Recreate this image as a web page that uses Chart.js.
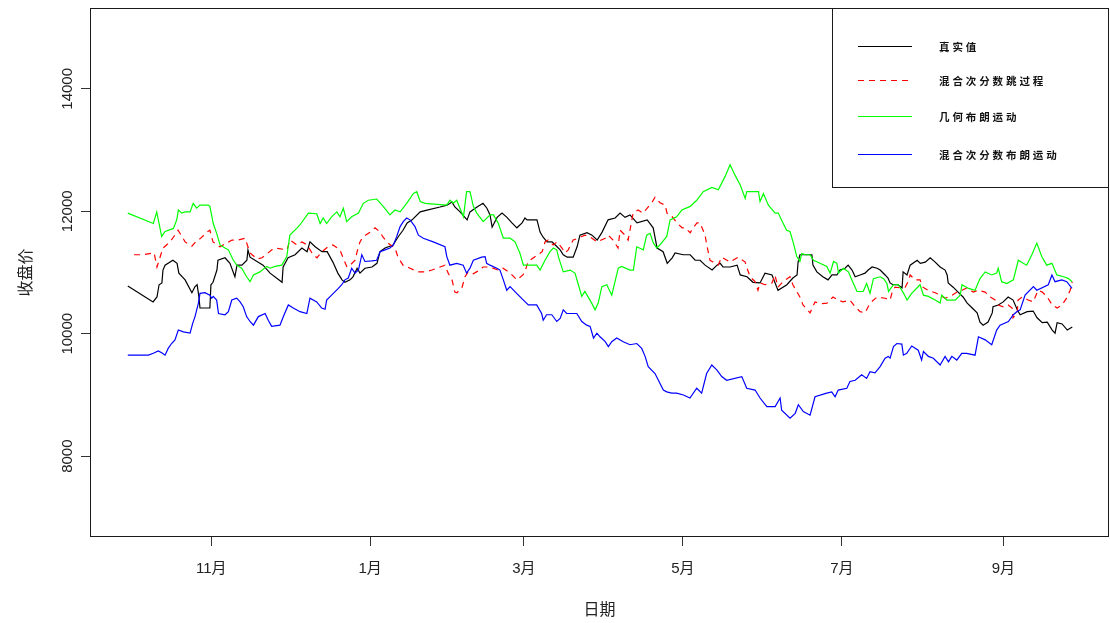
<!DOCTYPE html>
<html><head><meta charset="utf-8">
<script src="https://cdn.jsdelivr.net/npm/chart.js@4.4.0/dist/chart.umd.min.js"></script>
<style>html,body{margin:0;padding:0;background:#fff;overflow:hidden}canvas{display:block}</style>
</head><body>
<canvas id="c" width="1110" height="623"></canvas>
<script>
// x = days since 1 Oct (Oct 1 = 0); y = closing price
const monthTickDays = [31, 92, 151, 212, 273, 335];
const monthTickLabels = ['11月', '1月', '3月', '5月', '7月', '9月'];
const yTickValues = [8000, 10000, 12000, 14000];
const seriesNames = ['真实值', '混合次分数跳过程', '几何布朗运动', '混合次分数布朗运动'];

const realPoints = [[-1,10780],[8.7,10520],[10.2,10600],[11.0,10800],[12.1,10830],[12.5,11040],[13.3,11120],[16.3,11200],[17.9,11150],[18.6,10990],[21.0,10880],[23.6,10670],[24.8,10770],[25.6,10800],[26.3,10600],[26.7,10420],[30.5,10420],[30.9,10800],[31.7,10840],[33.2,11040],[33.6,11200],[36.3,11240],[38.2,11150],[40.1,10930],[40.9,11120],[42.8,11120],[44.7,11200],[45.1,11370],[45.9,11250],[50.9,11120],[53.6,10990],[58.2,10840],[58.6,11090],[60.5,11240],[63.2,11290],[65.8,11400],[67.8,11340],[68.9,11500],[70.9,11420],[73.5,11340],[75.5,11340],[77.7,11170],[79.6,10990],[81.2,10880],[82.3,10840],[84.3,10880],[85.4,10930],[87.0,11070],[88.1,10990],[90.0,11070],[92.7,11090],[94.6,11150],[95.8,11340],[97.7,11400],[100.8,11450],[102.7,11580],[104.6,11690],[106.2,11810],[108.1,11860],[111.2,11990],[113.8,12020],[118.8,12070],[121.5,12100],[123.4,12150],[124.5,12070],[126.5,11990],[129.2,11860],[130.3,11990],[133.0,12070],[135.3,12130],[136.8,12050],[138.0,11940],[138.8,11740],[140.7,11900],[142.6,11970],[144.5,11900],[146.4,11810],[148.3,11730],[150.3,11810],[151.4,11890],[152.2,11860],[156.0,11860],[157.2,11660],[158.3,11580],[159.9,11500],[161.8,11500],[163.7,11420],[164.9,11370],[166.1,11290],[167.6,11250],[169.9,11250],[171.4,11420],[172.5,11610],[175.2,11650],[177.1,11610],[179.1,11530],[181.0,11660],[183.3,11860],[186.0,11890],[187.9,11970],[189.8,11900],[191.7,11940],[194.4,11810],[198.3,11860],[200.6,11730],[202.1,11400],[204.4,11340],[206.0,11150],[207.9,11240],[209.0,11320],[212.1,11290],[214.8,11290],[216.7,11200],[218.6,11200],[220.5,11120],[223.2,11040],[225.1,11120],[226.3,11150],[227.4,11090],[230.1,11090],[232.8,11120],[234.0,10960],[236.6,10930],[238.9,10840],[241.6,10830],[243.5,10990],[246.2,10960],[248.1,10750],[248.5,10710],[251.9,10800],[254.2,10910],[255.8,10960],[256.2,11170],[256.9,11290],[261.5,11290],[261.9,11120],[263.4,11010],[265.7,10930],[267.7,10880],[269.2,10960],[271.1,10960],[272.3,11040],[274.2,11070],[275.4,11120],[276.9,11040],[278.1,10930],[280.0,10960],[281.9,10990],[283.1,11040],[284.6,11090],[286.5,11070],[287.7,11040],[289.6,10960],[290.7,10910],[291.5,10830],[292.6,10800],[294.5,10800],[296.1,10750],[296.5,11010],[298.0,10960],[299.2,11120],[301.9,11200],[303.1,11150],[305.0,11170],[306.9,11240],[308.8,11170],[310.7,11090],[312.6,11040],[313.4,10960],[313.8,10830],[315.7,10760],[317.6,10680],[319.5,10600],[321.1,10500],[323.0,10420],[324.9,10340],[326.0,10190],[327.2,10140],[329.1,10190],[330.7,10340],[331.0,10440],[333.0,10470],[334.9,10520],[336.8,10600],[338.7,10550],[340.3,10390],[341.4,10310],[344.1,10360],[346.4,10370],[347.9,10260],[349.9,10180],[351.8,10190],[353.7,10060],[354.8,10010],[355.6,10180],[357.5,10160],[359.5,10060],[361.4,10110]];

const jumpPoints = [[1.4,11290],[4.9,11290],[9.1,11320],[10.2,11090],[12.5,11400],[15.2,11500],[17.9,11660],[18.3,11690],[21.0,11500],[23.6,11430],[25.6,11530],[26.7,11550],[29.4,11660],[30.5,11690],[31.7,11500],[34.4,11420],[39.0,11530],[41.3,11530],[44.0,11560],[45.1,11420],[45.9,11320],[48.6,11220],[50.5,11240],[54.3,11370],[55.5,11400],[60.1,11370],[61.2,11530],[63.9,11450],[65.8,11500],[67.8,11450],[70.1,11290],[71.6,11240],[73.5,11340],[75.8,11420],[77.7,11450],[80.4,11370],[81.6,11240],[83.1,11090],[84.3,11120],[86.2,11200],[87.0,11340],[88.1,11500],[89.2,11580],[92.0,11660],[93.9,11730],[95.8,11660],[96.9,11580],[98.9,11480],[101.5,11400],[102.7,11250],[104.6,11120],[107.3,11070],[110.4,11010],[113.0,11010],[115.7,11040],[118.8,11090],[120.7,11120],[121.9,10990],[123.4,10880],[124.5,10680],[125.3,10670],[127.2,10750],[128.4,10930],[129.6,11010],[131.5,10980],[134.1,11040],[135.3,11090],[138.0,11090],[141.1,11040],[143.0,11070],[145.7,10990],[148.3,10880],[150.6,10960],[151.4,11010],[152.5,11170],[153.3,11200],[158.0,11340],[159.1,11500],[160.3,11530],[162.2,11450],[163.7,11500],[165.6,11400],[166.8,11320],[168.0,11370],[169.9,11530],[171.8,11560],[174.4,11610],[176.4,11580],[179.1,11500],[182.2,11560],[183.3,11610],[185.2,11530],[187.1,11400],[187.9,11690],[189.8,11610],[191.0,11530],[192.9,11970],[194.8,12020],[196.7,11970],[198.3,12050],[200.2,12150],[201.3,12230],[203.2,12140],[205.2,12100],[205.9,11970],[207.9,11910],[209.7,11810],[211.7,11730],[212.8,11730],[214.8,11650],[215.9,11730],[217.4,11810],[218.6,11810],[220.5,11610],[221.3,11420],[222.4,11200],[223.6,11170],[225.5,11120],[226.9,11250],[228.9,11200],[230.1,11170],[231.2,11200],[233.2,11250],[235.9,11170],[236.6,11070],[237.8,10930],[239.7,10850],[240.8,10710],[241.6,10830],[243.5,10800],[246.2,10830],[247.3,10960],[248.5,10760],[250.4,10850],[253.1,10930],[254.2,10800],[255.8,10680],[256.9,10600],[258.1,10470],[260.8,10340],[262.7,10520],[264.6,10490],[267.3,10500],[269.6,10600],[271.5,10550],[273.4,10520],[276.1,10550],[278.1,10440],[280.0,10360],[281.9,10340],[283.1,10440],[283.8,10500],[286.5,10600],[289.6,10580],[291.5,10550],[292.3,10680],[293.4,10760],[295.4,10750],[297.3,10760],[298.4,10850],[299.2,10960],[301.1,10880],[303.0,10880],[304.1,10760],[306.1,10710],[308.8,10670],[310.7,10630],[312.6,10580],[315.3,10630],[317.2,10680],[319.1,10710],[321.1,10750],[323.4,10680],[325.3,10710],[328.0,10680],[329.9,10600],[331.8,10550],[333.0,10470],[334.9,10440],[336.8,10470],[338.3,10420],[338.7,10260],[340.3,10340],[340.6,10550],[342.2,10600],[344.5,10550],[346.4,10520],[348.3,10710],[349.9,10680],[351.8,10600],[353.7,10470],[355.6,10420],[357.5,10470],[359.5,10600],[360.6,10710],[361.4,10850]];

const gbmPoints = [[-1,11970],[8.8,11800],[10.1,11990],[12.0,11590],[13.3,11670],[16.5,11720],[17.8,11860],[18.4,12020],[19.7,11970],[21.0,11990],[22.9,11990],[24.1,12130],[25.4,12050],[26.7,12100],[29.9,12100],[30.5,12080],[31.8,11800],[33.1,11640],[34.4,11450],[36.3,11400],[37.6,11370],[39.5,11200],[40.8,11120],[42.7,11070],[44.6,10930],[45.9,10850],[47.2,10960],[49.7,11010],[52.3,11100],[53.6,11070],[55.5,11100],[58.1,11120],[60.0,11260],[61.2,11610],[63.8,11720],[65.1,11780],[68.3,11970],[71.5,11960],[72.8,11800],[74.0,11890],[75.3,11800],[77.2,11910],[79.2,11990],[80.4,11910],[81.7,12050],[83.0,11830],[84.9,11910],[87.5,11970],[89.4,12130],[91.3,12180],[94.5,12200],[97.0,12080],[99.6,11940],[101.5,12020],[103.5,11990],[106.0,12130],[108.6,12290],[109.9,12320],[111.2,12160],[113.1,12130],[118.8,12110],[121.4,12100],[122.6,12180],[123.9,12130],[125.2,12180],[127.8,11910],[129.0,12320],[130.3,12320],[131.6,12080],[132.9,11970],[135.4,11830],[138.0,11940],[139.3,11940],[141.2,11800],[143.1,11560],[145.7,11560],[147.6,11500],[149.5,11310],[150.8,11120],[153.3,11120],[155.9,11120],[157.2,11040],[159.1,11200],[161.0,11340],[162.3,11400],[163.6,11370],[164.2,11260],[166.1,11010],[168.7,11040],[170.6,10990],[171.9,10800],[173.2,10610],[174.4,10690],[177.0,10500],[178.3,10390],[179.5,10500],[180.9,10770],[182.8,10800],[184.7,10630],[187.2,11070],[188.5,11100],[191.7,11040],[193.0,11040],[194.3,11420],[196.8,11370],[198.1,11610],[199.4,11640],[200.7,11480],[202.0,11400],[203.2,11450],[205.8,11590],[207.1,11860],[209.6,11910],[211.6,12020],[214.8,12080],[217.3,12180],[219.8,12320],[223.1,12390],[225.6,12350],[226.9,12460],[228.2,12570],[230.1,12760],[232.0,12590],[234.0,12430],[235.9,12210],[236.5,12320],[241.0,12320],[241.6,12160],[242.9,12290],[244.8,12100],[247.4,11970],[248.6,11970],[250.5,11800],[251.8,11690],[253.1,11670],[254.4,11480],[255.7,11260],[256.9,11180],[257.6,11310],[258.9,11290],[260.8,11290],[262.1,11200],[264.6,11150],[267.2,11100],[268.5,10990],[269.8,11180],[271.1,11150],[271.7,10990],[273.6,11070],[275.5,11010],[276.8,10880],[278.8,10690],[281.2,10690],[282.5,10820],[283.8,10660],[285.1,10900],[287.7,10930],[289.0,10900],[290.3,10820],[290.9,10690],[292.8,10800],[294.7,10800],[296.7,10660],[298.0,10550],[299.8,10660],[303.0,10800],[304.3,10630],[306.2,10610],[308.8,10550],[310.7,10500],[311.3,10630],[313.3,10550],[316.5,10550],[318.4,10630],[319.1,10800],[321.6,10740],[324.1,10710],[326.0,10900],[328.0,11010],[330.5,10960],[332.4,10990],[333.0,11070],[334.3,10850],[336.3,10820],[338.8,10880],[340.7,11200],[342.6,11150],[343.9,11120],[345.9,11290],[347.8,11480],[349.7,11260],[351.6,11120],[353.6,11150],[355.5,10960],[358.1,10930],[360.0,10900],[361.3,10850]];

const msfbmPoints = [[-1,9650],[6.9,9650],[8.8,9680],[10.7,9720],[12.0,9690],[13.3,9650],[14.5,9760],[15.8,9840],[17.1,9900],[18.4,10060],[20.3,10030],[22.9,10010],[23.9,10170],[24.8,10280],[26.1,10500],[26.7,10660],[28.6,10670],[30.5,10630],[31.2,10580],[31.8,10610],[33.1,10550],[33.8,10330],[36.3,10310],[37.6,10360],[38.9,10550],[40.8,10580],[42.1,10520],[43.3,10440],[44.6,10280],[45.9,10200],[47.2,10140],[49.1,10280],[51.7,10330],[52.9,10220],[54.2,10120],[57.4,10140],[58.7,10280],[60.6,10470],[62.5,10420],[65.1,10360],[67.7,10330],[68.9,10580],[71.5,10520],[73.4,10420],[74.7,10400],[75.3,10550],[77.2,10630],[79.8,10740],[81.1,10800],[82.3,10880],[83.6,10910],[84.9,11070],[86.2,10990],[87.5,11040],[88.8,11290],[90.0,11180],[92.6,11190],[94.5,11200],[95.8,11340],[97.7,11370],[99.6,11400],[100.9,11450],[102.2,11590],[103.5,11750],[104.7,11830],[106.0,11890],[107.3,11860],[109.2,11750],[110.5,11610],[112.4,11560],[116.2,11500],[120.7,11420],[121.4,11260],[122.6,11120],[125.2,11150],[127.7,11120],[129.0,10990],[130.3,11070],[131.6,11200],[134.8,11250],[136.1,11260],[136.7,11150],[138.0,11120],[140.6,11070],[141.8,11040],[143.1,10880],[144.4,10710],[145.7,10770],[148.2,10660],[150.8,10550],[152.7,10470],[155.9,10470],[157.8,10330],[158.4,10220],[159.7,10310],[161.7,10310],[163.6,10200],[164.9,10250],[166.1,10390],[167.4,10330],[171.3,10330],[173.2,10200],[175.1,10140],[176.4,10120],[177.7,9930],[179.0,10010],[180.2,9950],[182.2,9870],[183.4,9790],[184.7,9870],[186.6,9930],[189.1,9870],[191.7,9820],[194.3,9840],[196.2,9760],[197.5,9630],[198.7,9460],[201.3,9350],[202.6,9240],[204.5,9080],[205.8,9050],[207.7,9030],[209.6,9030],[212.2,9000],[214.7,8950],[217.3,9110],[219.2,9030],[221.1,9350],[223.1,9490],[225.0,9410],[226.9,9300],[228.8,9240],[234.6,9300],[236.5,9110],[239.7,9080],[241.6,8950],[244.2,8810],[247.4,8810],[249.3,8950],[249.9,8750],[253.1,8620],[255.1,8700],[256.3,8840],[258.2,8730],[260.8,8670],[262.7,8970],[267.2,9030],[269.1,9050],[270.4,8970],[271.6,9080],[274.9,9110],[276.1,9220],[278.1,9240],[280.6,9330],[282.5,9270],[283.8,9380],[285.7,9360],[287.6,9460],[289.6,9600],[290.8,9630],[291.5,9600],[292.8,9790],[294.1,9840],[296.0,9830],[296.6,9650],[297.9,9680],[299.8,9800],[302.3,9730],[303.6,9570],[304.3,9710],[306.2,9630],[308.1,9600],[310.7,9490],[312.6,9630],[313.9,9540],[315.2,9630],[317.1,9570],[319.0,9680],[320.9,9680],[324.1,9650],[325.4,9950],[328.0,9900],[330.5,9820],[332.4,10060],[333.7,10140],[336.9,10200],[338.8,10310],[340.1,10360],[341.4,10390],[343.3,10630],[346.5,10770],[347.8,10710],[352.2,10800],[353.6,10960],[354.8,10850],[357.4,10880],[359.3,10850],[361.3,10740]];

const FONT = '"Liberation Sans", "Noto Sans CJK SC", sans-serif';
function toXY(pairs) { return pairs.map(p => ({ x: p[0], y: p[1] })); }

const boxLegend = {
  id: 'boxLegend',
  afterDraw(chart) {
    const { ctx, chartArea: a } = chart;
    ctx.save();
    ctx.strokeStyle = '#1a1a1a';
    ctx.lineWidth = 1;
    ctx.setLineDash([]);
    ctx.strokeRect(a.left + 0.5, a.top + 0.5, a.right - a.left - 1, a.bottom - a.top - 1);
    const lx = 832.5, ly = a.top + 0.5, lw = a.right - 0.5 - lx, lh = 179;
    ctx.fillStyle = '#fff';
    ctx.fillRect(lx, ly, lw, lh);
    ctx.strokeRect(lx, ly, lw, lh);
    const rows = [46, 80, 116, 154];
    chart.data.datasets.forEach((ds, i) => {
      ctx.beginPath();
      ctx.strokeStyle = ds.borderColor;
      ctx.lineWidth = ds.borderWidth;
      ctx.setLineDash(ds.borderDash || []);
      ctx.moveTo(858, rows[i] + 0.5);
      ctx.lineTo(912, rows[i] + 0.5);
      ctx.stroke();
      ctx.setLineDash([]);
      ctx.fillStyle = '#111';
      ctx.font = 'bold 10.5px "Noto Sans CJK SC"';
      ctx.textBaseline = 'middle';
      ctx.textAlign = 'left';
      [...ds.label].forEach((ch, k) => ctx.fillText(ch, 939 + k * 13.4, rows[i] + 1));
    });
    ctx.restore();
  }
};

new Chart(document.getElementById('c'), {
  type: 'line',
  data: {
    datasets: [
      { label: seriesNames[0], data: toXY(realPoints), borderColor: '#000000', borderWidth: 1.2, order: 3 },
      { label: seriesNames[1], data: toXY(jumpPoints), borderColor: '#FF0000', borderWidth: 1.2, borderDash: [6, 5], order: 2 },
      { label: seriesNames[2], data: toXY(gbmPoints), borderColor: '#00FF00', borderWidth: 1.2, order: 1 },
      { label: seriesNames[3], data: toXY(msfbmPoints), borderColor: '#0000FF', borderWidth: 1.2, order: 0 }
    ]
  },
  options: {
    responsive: false,
    animation: false,
    devicePixelRatio: 1,
    layout: { padding: { left: 0, right: 1, top: 8, bottom: 0 } },
    plugins: { legend: { display: false }, tooltip: { enabled: false } },
    elements: { point: { radius: 0 }, line: { tension: 0, fill: false } },
    scales: {
      x: {
        type: 'linear', min: -15.5, max: 375.5,
        afterBuildTicks: s => { s.ticks = monthTickDays.map(v => ({ value: v })); },
        afterFit: s => { s.height = 86; },
        grid: { display: true, drawOnChartArea: false, drawTicks: true, tickLength: 9, color: '#333', lineWidth: 1 },
        border: { display: false },
        ticks: {
          autoSkip: false, maxRotation: 0, minRotation: 0, padding: 14, color: '#222',
          font: { family: FONT, size: 15 },
          callback: v => { const i = monthTickDays.indexOf(v); return i >= 0 ? monthTickLabels[i] : ''; }
        },
        title: { display: true, text: '日期', color: '#222', font: { family: FONT, size: 16 }, padding: { top: 0, bottom: 3 } }
      },
      y: {
        type: 'linear', min: 6680, max: 15320,
        afterBuildTicks: s => { s.ticks = yTickValues.map(v => ({ value: v })); },
        afterFit: s => { s.width = 90; },
        grid: { display: true, drawOnChartArea: false, drawTicks: true, tickLength: 9, color: '#333', lineWidth: 1 },
        border: { display: false },
        ticks: {
          autoSkip: false, minRotation: 90, maxRotation: 90, crossAlign: 'center', padding: -8, color: '#222',
          font: { family: FONT, size: 15 },
          callback: v => String(v)
        },
        title: { display: true, text: '收盘价', color: '#222', font: { family: FONT, size: 16 }, padding: { top: 17, bottom: 0 } }
      }
    }
  },
  plugins: [boxLegend]
});
</script>
</body></html>
